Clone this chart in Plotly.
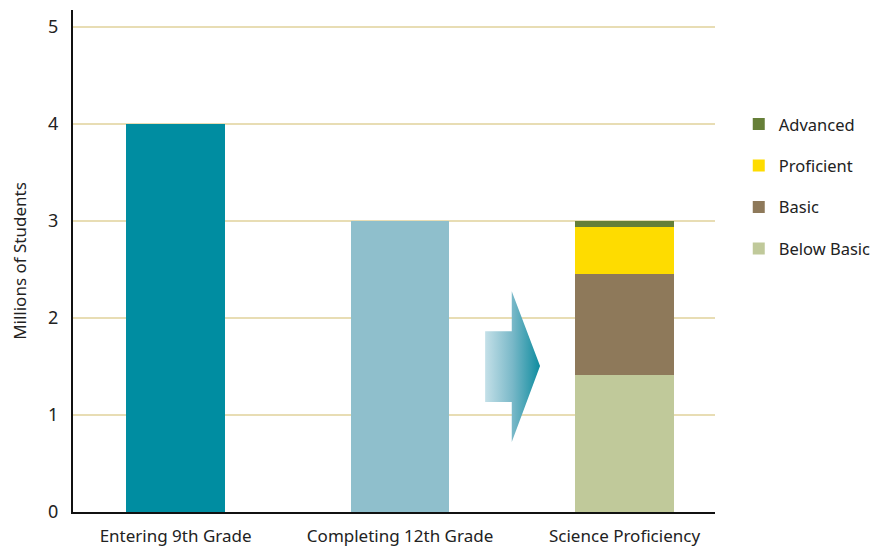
import plotly.graph_objects as go

# Data
categories = ["Entering 9th Grade", "Completing 12th Grade", "Science Proficiency"]
totals_cats = ["Entering 9th Grade", "Completing 12th Grade"]
totals_vals = [4.0, 3.0]
totals_colors = ["#008DA1", "#8FBFCC"]

stack_names = ["Below Basic", "Basic", "Proficient", "Advanced"]
stack_vals = [1.41, 1.04, 0.485, 0.065]
stack_colors = ["#C0C99A", "#8E795A", "#FEDC00", "#667F38"]

y_ticks = [0, 1, 2, 3, 4, 5]

FONT = "Noto Sans"

fig = go.Figure()
fig.add_trace(go.Bar(
    x=totals_cats, y=totals_vals, marker=dict(color=totals_colors, line=dict(width=0)),
    width=0.44, showlegend=False, hoverinfo="skip"))
for i, (name, val, col) in enumerate(zip(stack_names, stack_vals, stack_colors)):
    fig.add_trace(go.Bar(
        x=[categories[2]], y=[val], name=name, legendgroup=name,
        legendrank=len(stack_names) - i,
        marker=dict(color=col, line=dict(width=0)), width=0.44))

# decorative gradient arrow between the 2nd and 3rd bars (data coords)
ax = [1.379, 1.4976, 1.4976, 1.6236, 1.4976, 1.4976, 1.379, 1.379]
ay = [1.863, 1.863, 2.275, 1.505, 0.722, 1.134, 1.134, 1.863]
fig.add_trace(go.Scatter(
    x=ax, y=ay, mode="lines", fill="toself", line=dict(width=0),
    fillgradient=dict(type="horizontal",
                      colorscale=[[0, "#C4E0E8"], [0.5, "#79B8C8"], [1, "#0E8C9F"]]),
    showlegend=False, hoverinfo="skip", xaxis="x2"))

fig.update_layout(
    width=871, height=538,
    margin=dict(l=65, r=164, t=2, b=34, autoexpand=False),
    paper_bgcolor="white", plot_bgcolor="white",
    barmode="stack",
    font=dict(family=FONT, size=17, color="#222222"),
    showlegend=True,
    legend=dict(x=1.037, y=0.807, xanchor="left", yanchor="top",
                traceorder="grouped", tracegroupgap=17,
                font=dict(family=FONT, size=16.5, color="#222222"),
                itemwidth=30, bgcolor="rgba(0,0,0,0)"),
    xaxis=dict(type="category", categoryorder="array", categoryarray=categories,
               range=[-0.457, 2.403], showgrid=False, zeroline=False,
               showline=True, linecolor="#111111", linewidth=2,
               ticks="", ticklabelstandoff=8, automargin=False,
               tickfont=dict(family=FONT, size=17, color="#222222")),
    xaxis2=dict(overlaying="x", range=[-0.457, 2.403], visible=False),
    yaxis=dict(range=[0, 5.175], tickvals=y_ticks, showgrid=True,
               gridcolor="#E8DDB4", gridwidth=2, zeroline=False,
               showline=True, linecolor="#111111", linewidth=2,
               ticks="", ticklabelstandoff=9, automargin=False,
               tickfont=dict(family=FONT, size=18, color="#222222"),
               title=dict(text="Millions of Students", standoff=34,
                          font=dict(family=FONT, size=17, color="#222222"))),
)

fig.write_html("out.html")
